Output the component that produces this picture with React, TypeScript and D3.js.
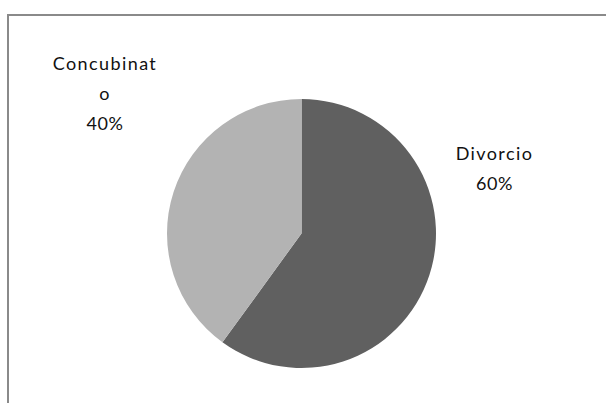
import React from "react";
import * as d3 from "d3";

const categories = ["Divorcio", "Concubinato"];
const values = [60, 40];
const colors = ["#606060", "#b3b3b3"];
const labelLines = [["Divorcio", "60%"], ["Concubinat", "o", "40%"]];

const W = 606;
const H = 403;

export default function App() {
  const cx = 301.5, cy = 233.5, r = 134.5;
  const pie = d3.pie<number>().sort(null).value((d) => d)(values);
  const arc = d3.arc<d3.PieArcDatum<number>>().innerRadius(0).outerRadius(r);
  const labelPos = [
    { x: 494.5, y: 160 },
    { x: 105, y: 70 },
  ];
  return (
    <svg width={W} height={H} style={{ position: "absolute", left: 0, top: 0 }}>
      <rect x={0} y={0} width={W} height={H} fill="#fff" />
      <path d={`M8,${H} L8,15 L${W},15`} fill="none" stroke="#8a8a8a" strokeWidth={2} />
      <g transform={`translate(${cx},${cy})`}>
        {pie.map((p, i) => (
          <path key={categories[i]} d={arc(p) || ""} fill={colors[i]} />
        ))}
      </g>
      {labelLines.map((lines, i) => (
        <text key={i} textAnchor="middle" fontFamily="Lato, 'Open Sans', sans-serif" fontSize={18} fill="#111" >
          {lines.map((l, j) => (
            <tspan key={j} x={labelPos[i].x} y={labelPos[i].y + j * 30} letterSpacing={/%/.test(l) ? 0.6 : 1.4}>{l}</tspan>
          ))}
        </text>
      ))}
    </svg>
  );
}
